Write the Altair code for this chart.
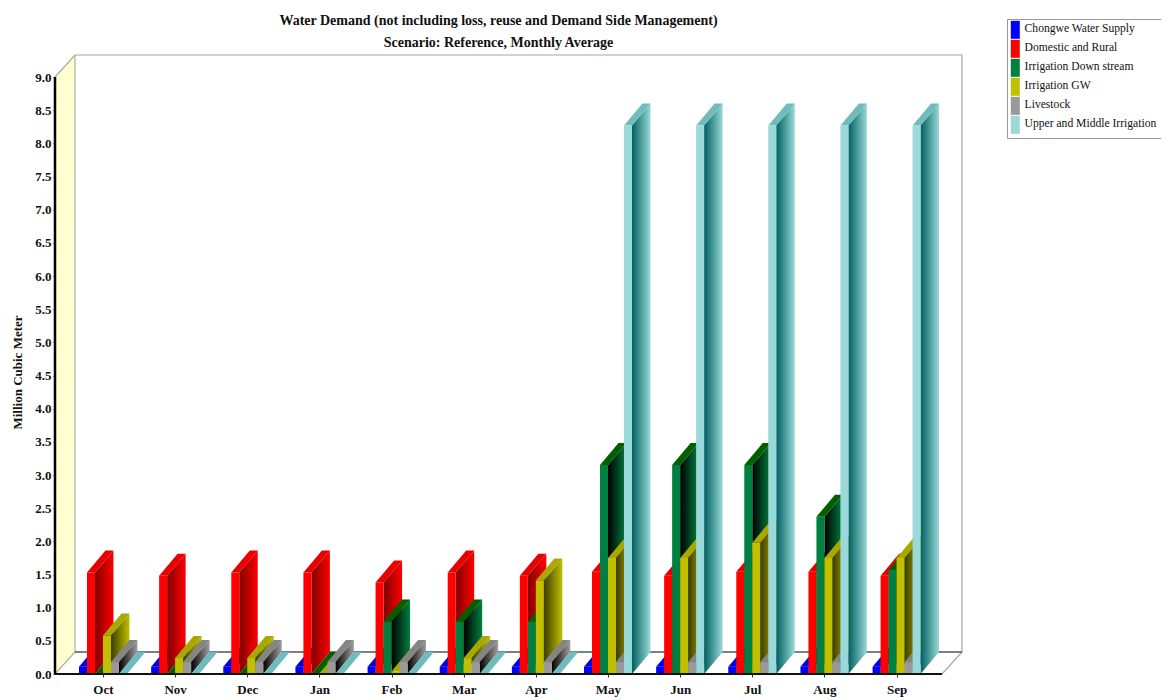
import altair as alt
import pandas as pd

months = ["Oct","Nov","Dec","Jan","Feb","Mar","Apr","May","Jun","Jul","Aug","Sep"]
chongwe = [0.11]*12
domestic = [1.53,1.48,1.53,1.53,1.38,1.53,1.48,1.54,1.48,1.54,1.54,1.48]
down = [0,0,0,0,0.79,0.79,0.79,3.15,3.15,3.15,2.37,1.57]
gw = [0.58,0.24,0.24,0,0.04,0.24,1.41,1.75,1.75,1.98,1.75,1.75]
live = [0.18]*12
upper = [0,0,0,0,0,0,0,8.27,8.27,8.27,8.27,8.27]

names = ["Chongwe Water Supply","Domestic and Rural","Irrigation Down stream","Irrigation GW","Livestock","Upper and  Middle Irrigation"]
series = [chongwe, domestic, down, gw, live, upper]
front_cols = ["#0000ff","#ff0000","#008040","#c0c000","#999999","#99d9d9"]
top_cols = ["#0000e0","#e80000","#006000","#a8a800","#858585","#70bcbc"]
side_dark = ["#000080","#800000","#000000","#3c3c00","#000000","#006060"]
side_light = ["#0000ff","#ff0000","#008040","#c0c000","#a0a0a0","#99d9d9"]

BW = 8/72.2      # bar width in month units
DX = 18.5/72.2   # bar depth, x
DY = 0.332       # depth, y
WX = 20/72.2     # wall depth, x
X0, X1 = -0.665, 11.63
Y_TOP = 9.0

xscale = alt.Scale(domain=[X0, X1+WX], nice=False, zero=False)
yscale = alt.Scale(domain=[0, Y_TOP+DY], nice=False, zero=False)
labelexpr = "[" + ",".join(f"'{m}'" for m in months) + "][datum.value]"
xaxis = alt.Axis(
    values=list(range(12)), labelExpr=labelexpr, domain=False, grid=False, tickSize=3,
    tickColor="#333333", labelPadding=6, labelFont="Liberation Serif", labelFontSize=13,
    labelFontWeight="bold", labelColor="#111111", labelOverlap=False)
yaxis = alt.Axis(
    values=[i*0.5 for i in range(19)], format=".1f", domain=False, grid=False, tickSize=2,
    tickColor="#333333", labelPadding=2, labelFont="Liberation Serif", labelFontSize=13,
    labelFontWeight="bold", labelColor="#111111", labelOverlap=False, titleFont="Liberation Serif",
    titleFontSize=13, titleFontWeight="bold", titleColor="#111111", titleX=-31, titleY=317)
X = alt.X("x:Q", scale=xscale, axis=xaxis, title=None)
Y = alt.Y("y:Q", scale=yscale, axis=yaxis, title="Million Cubic Meter")
Y2 = alt.Y2("y2:Q")

def polyline(points, color, width):
    d = pd.DataFrame(points, columns=["x","y"]).assign(o=range(len(points)))
    return alt.Chart(d).mark_line(color=color, strokeWidth=width).encode(X, Y, order="o:Q")

# walls
wall = alt.Chart(pd.DataFrame({"x":[X0,X0+WX],"y":[Y_TOP,Y_TOP+DY],"y2":[0,DY]})).mark_area(
    color="#ffffd2", opacity=1).encode(X, Y, Y2)

frame = [
    polyline([(X0,Y_TOP),(X0+WX,Y_TOP+DY),(X1+WX,Y_TOP+DY),(X1+WX,DY),(X1,0)], "#a8a89a", 1.2),
    polyline([(X0+WX,Y_TOP+DY),(X0+WX,DY),(X0,0)], "#b0b0a0", 1.2),
    polyline([(X0+WX,DY),(X1+WX,DY)], "#555555", 1.5),
]

bars = []
for s, (name, vals) in enumerate(zip(names, series)):
    side_rows, top_rows, front_rows = [], [], []
    for i, v in enumerate(vals):
        xl = i + (s-3)*BW
        xr = xl + BW
        front_rows.append({"x":xl,"x2":xr,"y":v,"y2":0,"series":name})
        side_rows += [{"x":xr,"y":v,"y2":0,"k":i},{"x":xr+DX,"y":v+DY,"y2":DY,"k":i}]
        f = BW/DX
        top_rows += [
            {"x":xl,"y":v,"y2":v,"k":i},
            {"x":xr,"y":v+DY*f,"y2":v,"k":i},
            {"x":xl+DX,"y":v+DY,"y2":v+DY*(1-f),"k":i},
            {"x":xr+DX,"y":v+DY,"y2":v+DY,"k":i},
        ]
    grad = alt.Gradient(gradient="linear", x1=0, x2=1, y1=0, y2=0, stops=[
        alt.GradientStop(color=side_dark[s], offset=0),
        alt.GradientStop(color=side_light[s], offset=1)])
    bars.append(alt.Chart(pd.DataFrame(side_rows)).mark_area(fill=grad, opacity=1).encode(
        X, Y, Y2, detail="k:N"))
    bars.append(alt.Chart(pd.DataFrame(top_rows)).mark_area(color=top_cols[s], opacity=1).encode(
        X, Y, Y2, detail="k:N"))
    bars.append(alt.Chart(pd.DataFrame(front_rows)).mark_rect(opacity=1).encode(
        X, alt.X2("x2:Q"), Y, Y2,
        color=alt.Color("series:N", scale=alt.Scale(domain=names, range=front_cols), legend=alt.Legend(
            title=None, orient="none", legendX=952, legendY=-36, fillColor="#ffffff",
            strokeColor="#999999", padding=4, symbolType="M-1.5,-2H0.75V2.5H-1.5Z", symbolSize=64,
            symbolStrokeWidth=0, symbolOpacity=1, rowPadding=0, labelOffset=2, labelFont="Liberation Serif",
            labelFontSize=11.6, labelColor="#111111", labelLimit=200))))

axes_front = [
    polyline([(X0,0),(X1,0)], "#111111", 2),
    polyline([(X0,0),(X0,Y_TOP)], "#000000", 2.5),
]

chart = alt.layer(wall, *frame, *bars, *axes_front).properties(
    width=907, height=619,
    padding={"left":47,"top":47,"right":199,"bottom":24},
    autosize=alt.AutoSizeParams(type="none", contains="content"),
    background="white",
    title=alt.TitleParams(
        text=["Water Demand (not including loss, reuse and Demand Side Management)",
              "Scenario: Reference,  Monthly Average"],
        anchor="middle", frame="group", dx=-10, dy=40, offset=9, lineHeight=22,
        font="Liberation Serif", fontSize=14, fontWeight="bold", color="#111111"),
).configure_view(stroke=None)

chart.save("out.html", embed_options={"renderer": "svg", "actions": False})
